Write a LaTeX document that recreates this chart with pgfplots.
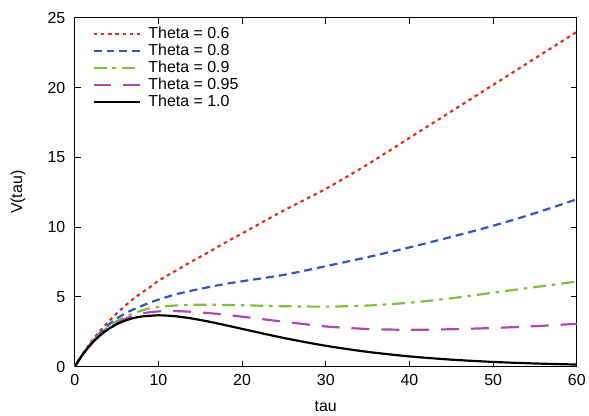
\documentclass[border=0pt]{standalone}
\usepackage{pgfplots}
\pgfplotsset{compat=1.18}
\usepackage{fontspec}
\setmainfont{Liberation Sans}
\definecolor{cred}{RGB}{225,45,35}
\definecolor{cblue}{RGB}{50,85,190}
\definecolor{cgreen}{RGB}{125,190,65}
\definecolor{cmag}{RGB}{175,70,180}
\newcommand{\lf}{\fontsize{16bp}{18bp}\selectfont}
\begin{document}
\begin{tikzpicture}
\begin{axis}[
  scale only axis,
  width=504bp, height=350bp,
  xmin=0, xmax=60, ymin=0, ymax=25,
  xtick={0,10,...,60}, ytick={0,5,...,25},
  tick align=inside,
  major tick length=6bp,
  axis line style={line width=1.1pt},
  tick style={line width=0.9pt, black},
  /pgf/number format/assume math mode=true,
  ticklabel style={font=\lf},
  yticklabel style={xshift=-6bp},
  xticklabel style={yshift=-4bp},
  xlabel={tau}, ylabel={V(tau)},
  label style={font=\lf},
  xlabel style={at={(axis description cs:0.5,0)}, anchor=center, yshift=-40bp},
  ylabel style={at={(axis description cs:0,0.5)}, anchor=center, yshift=57bp},
  legend style={draw=none, fill=none, at={(axis description cs:0.029,0.985)},
    anchor=north west, font=\lf, row sep=0bp},
  legend cell align=left,
  legend image code/.code={\draw[#1] (0bp,0bp) -- (47bp,0bp); \path (52bp,0bp);},
  every axis plot/.append style={smooth, tension=0.45},
]
\addplot[cred, line width=2.2pt, dash pattern=on 3.5bp off 3.8bp] coordinates {
(0,0) (1,0.95) (2,1.8) (3,2.55) (4,3.2) (5,3.8) (6,4.35) (7,4.85) (8,5.3) (9,5.7)
(10,6.15) (12,6.85) (14,7.55) (16,8.2) (18,8.9) (20,9.55) (25,11.2) (30,12.75)
(35,14.5) (40,16.4) (45,18.3) (50,20.2) (55,22.1) (60,24.0)};
\addlegendentry{Theta = 0.6}
\addplot[cblue, line width=2.2pt, dash pattern=on 8bp off 5bp] coordinates {
(0,0) (1,0.93) (2,1.72) (3,2.4) (4,2.97) (5,3.45) (6,3.8) (7,4.1) (8,4.35) (9,4.6)
(10,4.8) (12,5.17) (14,5.45) (16,5.7) (18,5.93) (20,6.12) (25,6.58) (30,7.2)
(35,7.85) (40,8.55) (45,9.3) (50,10.1) (55,11.0) (60,12.0)};
\addlegendentry{Theta = 0.8}
\addplot[cgreen, line width=2.2pt, dash pattern=on 13bp off 6bp on 3.5bp off 6bp] coordinates {
(0,0) (1,0.92) (2,1.69) (3,2.33) (4,2.85) (5,3.25) (6,3.55) (7,3.8) (8,4.02) (9,4.18)
(10,4.28) (12,4.38) (14,4.43) (16,4.44) (18,4.42) (20,4.4) (25,4.33) (30,4.3)
(35,4.38) (40,4.58) (45,4.9) (50,5.3) (55,5.7) (60,6.1)};
\addlegendentry{Theta = 0.9}
\addplot[cmag, line width=2.2pt, dash pattern=on 18bp off 12bp] coordinates {
(0,0) (1,0.91) (2,1.66) (3,2.26) (4,2.74) (5,3.12) (6,3.42) (7,3.64) (8,3.8) (9,3.9)
(10,3.96) (12,3.98) (14,3.93) (16,3.84) (18,3.72) (20,3.58) (25,3.22) (30,2.88)
(35,2.7) (40,2.64) (45,2.68) (50,2.77) (55,2.9) (60,3.07)};
\addlegendentry{Theta = 0.95}
\addplot[black, line width=2.2pt] coordinates {
(0,0) (1,0.905) (2,1.637) (3,2.222) (4,2.681) (5,3.033) (6,3.293) (7,3.476) (8,3.595)
(10,3.679) (12,3.614) (14,3.452) (16,3.23) (18,2.975) (20,2.707) (25,2.052) (30,1.494)
(35,1.057) (40,0.733) (45,0.5) (50,0.337) (55,0.225) (60,0.149)};
\addlegendentry{Theta = 1.0}
\end{axis}
\path ([xshift=-75bp,yshift=-49bp]current axis.south west)
  rectangle ([xshift=10bp,yshift=18bp]current axis.north east);
\end{tikzpicture}
\end{document}
